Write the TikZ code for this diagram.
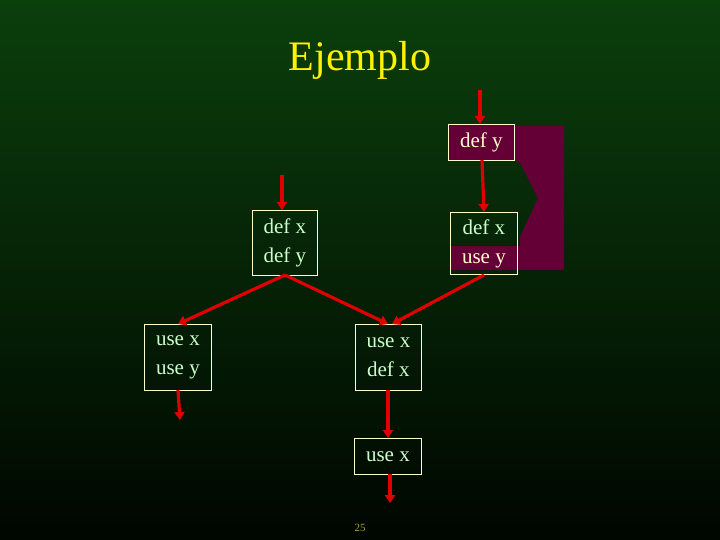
\documentclass[tikz,border=0pt]{standalone}
\usepackage{fontspec}
\setmainfont{Liberation Serif}
\usetikzlibrary{arrows.meta}
\definecolor{bgtop}{HTML}{0B3F0C}
\definecolor{bgbot}{HTML}{000600}
\definecolor{plum}{HTML}{640036}
\definecolor{cream}{HTML}{FFFFCC}
\definecolor{lgreen}{HTML}{CCFFCC}
\definecolor{arr}{HTML}{E00000}
\tikzset{
  blk/.style={draw=cream, line width=0.8pt, text=lgreen, align=center, font=\fontsize{21}{29}\selectfont, inner sep=0pt, anchor=north west},
  flow/.style={draw=arr, line width=3.2pt, -{Triangle[length=8pt,width=10pt]}}
}
\begin{document}
\begin{tikzpicture}[x=1pt,y=-1pt]
\shade[top color=bgtop, bottom color=bgbot] (0,0) rectangle (720,540);
\useasboundingbox (0,0) rectangle (720,540);
\fill[plum] (448,126) -- (564,126) -- (564,270) -- (450,270) -- (450,246) -- (520,246) -- (520,237) -- (538,198) -- (520,163) -- (515,160) -- (448,160) -- cycle;
\node[font=\fontsize{42}{48}\selectfont, text=yellow] (title) at (360,60) {Ejemplo};
\node[blk, minimum width=66pt, minimum height=36pt, text=cream] (dy) at (448,124) {def y};
\node[blk, minimum width=65pt, minimum height=65pt] (dxdy) at (252,210) {def x\\def y};
\node[blk, minimum width=67pt, minimum height=62pt] (dxuy) at (450,212) {def x\\\textcolor{cream}{use y}};
\node[blk, minimum width=67pt, minimum height=66pt] (uxuy) at (144,324) {use x\\use y};
\node[blk, minimum width=66pt, minimum height=66pt] (uxdx) at (355,324) {use x\\def x};
\node[blk, minimum width=67pt, minimum height=36pt] (ux) at (354,438) {use x};
\node[font=\fontsize{11}{13}\selectfont, text=yellow!60!black] (pg) at (360,528) {25};
\coordinate (i1) at (480,90);
\coordinate (i2) at (282,175);
\coordinate (o1) at (180,420);
\coordinate (o2) at (390,503);
\draw[flow] (i1) -- (dy.north -| i1);
\draw[flow] (482,160) -- (484,212);
\draw[flow] (i2) -- (dxdy.north -| i2);
\draw[flow] (285,275) -- (178,324);
\draw[flow] (285,275) -- (388,324);
\draw[flow] (484,275) -- (392,324);
\draw[flow] (178,390) -- (o1);
\draw[flow] (388,390) -- (388,438);
\draw[flow] (390,474) -- (o2);
\end{tikzpicture}
\end{document}
